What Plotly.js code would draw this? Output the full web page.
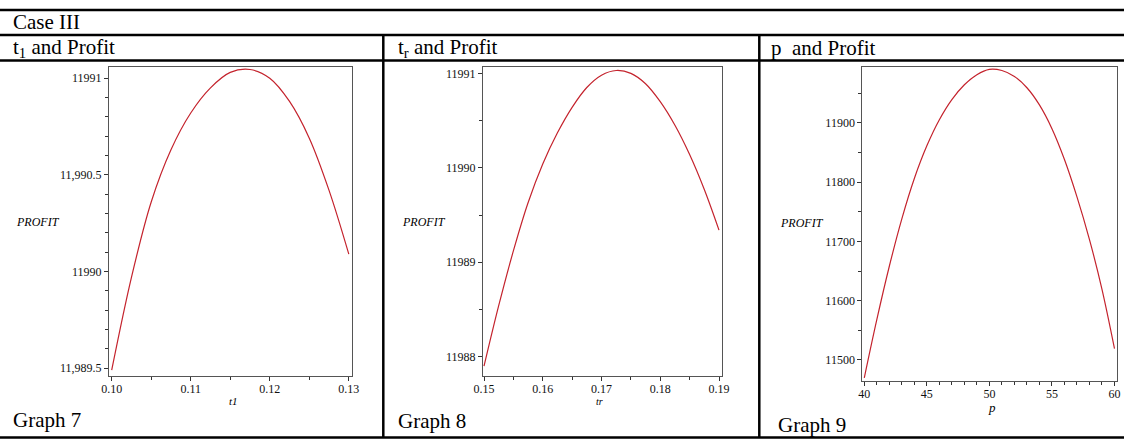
<!DOCTYPE html>
<html>
<head>
<meta charset="utf-8">
<script src="https://cdn.plot.ly/plotly-3.0.1.min.js"></script>
<style>
  html, body { margin: 0; padding: 0; background: #fff; }
  #chart { width: 1124px; height: 442px; }
</style>
</head>
<body>
<div id="chart"></div>
<script>
// Graph 7: profit against t1
const t1Values = [0.1000, 0.1025, 0.1050, 0.1075, 0.1100, 0.1125, 0.1150, 0.1175, 0.1200, 0.1225, 0.1250, 0.1275, 0.1300];
const profitByT1 = [11989.49, 11989.97, 11990.36, 11990.63, 11990.82, 11990.95, 11991.03, 11991.045, 11991.00, 11990.88, 11990.69, 11990.42, 11990.09];

// Graph 8: profit against tr
const trValues = [0.1500, 0.1525, 0.1550, 0.1575, 0.1600, 0.1625, 0.1650, 0.1675, 0.1700, 0.1725, 0.1750, 0.1775, 0.1800, 0.1825, 0.1850, 0.1875, 0.1900];
const profitByTr = [11987.90, 11988.54, 11989.12, 11989.63, 11990.04, 11990.37, 11990.64, 11990.85, 11990.98, 11991.03, 11991.00, 11990.89, 11990.70, 11990.45, 11990.14, 11989.77, 11989.34];

// Graph 9: profit against p
const pValues = [40, 41, 42, 43, 44, 45, 46, 47, 48, 49, 50, 51, 52, 53, 54, 55, 56, 57, 58, 59, 60];
const profitByP = [11470, 11568, 11658, 11738, 11806, 11861, 11905, 11939, 11964, 11981, 11990, 11988, 11978, 11959, 11930, 11890, 11838, 11775, 11703, 11619, 11519];

// Tick labels
const t1Ticks = [0.10, 0.11, 0.12, 0.13];
const t1TickText = ['0.10', '0.11', '0.12', '0.13'];
const profitT1Ticks = [11989.5, 11990, 11990.5, 11991];
const profitT1TickText = ['11,989.5', '11990', '11,990.5', '11991'];

const trTicks = [0.15, 0.16, 0.17, 0.18, 0.19];
const trTickText = ['0.15', '0.16', '0.17', '0.18', '0.19'];
const profitTrTicks = [11988, 11989, 11990, 11991];
const profitTrTickText = ['11988', '11989', '11990', '11991'];

const pTicks = [40, 45, 50, 55, 60];
const pTickText = ['40', '45', '50', '55', '60'];
const profitPTicks = [11500, 11600, 11700, 11800, 11900];
const profitPTickText = ['11500', '11600', '11700', '11800', '11900'];

const W = 1124, H = 442;
const px = v => v / W;
const py = v => 1 - v / H;

const serif = 'Liberation Serif';
const curveColor = '#c4232d';
const frameColor = '#555555';

function axisStyle(extra) {
  return Object.assign({
    showline: true, mirror: true, linecolor: frameColor, linewidth: 1,
    showgrid: false, zeroline: false,
    ticks: 'outside', ticklen: 4, tickwidth: 1, tickcolor: '#333',
    tickmode: 'array',
    tickfont: { family: serif, size: 12, color: '#111' },
    fixedrange: true
  }, extra);
}

const traces = [
  { x: t1Values, y: profitByT1, xaxis: 'x', yaxis: 'y' },
  { x: trValues, y: profitByTr, xaxis: 'x2', yaxis: 'y2' },
  { x: pValues, y: profitByP, xaxis: 'x3', yaxis: 'y3' }
].map(t => Object.assign(t, {
  type: 'scatter', mode: 'lines',
  line: { color: curveColor, width: 1.2, shape: 'spline', smoothing: 1 },
  hoverinfo: 'skip', showlegend: false
}));

const minorX = (tick0, dtick) => ({ ticks: 'outside', ticklen: 3, tickcolor: '#333', tickmode: 'linear', tick0: tick0, dtick: dtick });

const layout = {
  width: W, height: H,
  margin: { l: 0, r: 0, t: 0, b: 0 },
  paper_bgcolor: '#ffffff', plot_bgcolor: '#ffffff',
  showlegend: false,
  font: { family: serif },

  xaxis: axisStyle({
    domain: [px(109), px(351.5)], range: [0.09966, 0.13034], anchor: 'y',
    tickvals: t1Ticks, ticktext: t1TickText, ticklabelstandoff: -2,
    minor: minorX(0.105, 0.01)
  }),
  yaxis: axisStyle({
    domain: [py(376), py(67)], range: [11989.46, 11991.058], anchor: 'x',
    tickvals: profitT1Ticks, ticktext: profitT1TickText,
    minor: minorX(11989.5, 0.1)
  }),

  xaxis2: axisStyle({
    domain: [px(483), px(721.7)], range: [0.14983, 0.19046], anchor: 'y2',
    tickvals: trTicks, ticktext: trTickText, ticklabelstandoff: -2,
    minor: minorX(0.155, 0.01)
  }),
  yaxis2: axisStyle({
    domain: [py(376), py(67)], range: [11987.796, 11991.067], anchor: 'x2',
    tickvals: profitTrTicks, ticktext: profitTrTickText,
    minor: minorX(11988.5, 1)
  }),

  xaxis3: axisStyle({
    domain: [px(862.3), px(1117)], range: [39.84, 60.2], anchor: 'y3',
    tickvals: pTicks, ticktext: pTickText, ticklabelstandoff: -2,
    minor: minorX(40, 1)
  }),
  yaxis3: axisStyle({
    domain: [py(380.5), py(66.5)], range: [11465.4, 11994.8], anchor: 'x3',
    tickvals: profitPTicks, ticktext: profitPTickText,
    minor: minorX(11450, 100)
  }),

  shapes: [],
  annotations: []
};

// table rules
function rule(x0, y0, x1, y1) {
  layout.shapes.push({
    type: 'line', xref: 'paper', yref: 'paper',
    x0: px(x0), y0: py(y0), x1: px(x1), y1: py(y1),
    line: { color: '#000', width: 2.5 }
  });
}
rule(0, 10, W, 10);
rule(0, 35, W, 35);
rule(0, 60.5, W, 60.5);
rule(0, 437.5, W, 437.5);
rule(383.3, 35, 383.3, 437.5);
rule(759.3, 35, 759.3, 437.5);

function label(text, x, y, size, anchor) {
  layout.annotations.push({
    text: text, xref: 'paper', yref: 'paper',
    x: px(x), y: py(y), xanchor: anchor || 'left', yanchor: 'middle',
    showarrow: false, font: { family: serif, size: size, color: '#000' }
  });
}

// header cells
label('Case III', 11, 21.5, 21);
label('t<sub>1</sub> and Profit', 11, 47.5, 21);
label('t<sub>r</sub> and Profit', 396, 47.5, 21);
label('p\u00a0 and Profit', 769, 47.5, 21);

// captions
label('Graph 7', 11, 420, 21);
label('Graph 8', 396, 421, 21);
label('Graph 9', 776, 425, 21);

// axis titles
label('<i>PROFIT</i>', 38, 222, 12, 'center');
label('<i>PROFIT</i>', 424, 222, 12, 'center');
label('<i>PROFIT</i>', 802, 223, 12, 'center');
label('<i>t1</i>', 233, 401, 11, 'center');
label('<i>tr</i>', 600, 401, 10, 'center');
label('<i>p</i>', 992, 407, 13, 'center');

Plotly.newPlot('chart', traces, layout, { staticPlot: true, displayModeBar: false });
</script>
</body>
</html>
